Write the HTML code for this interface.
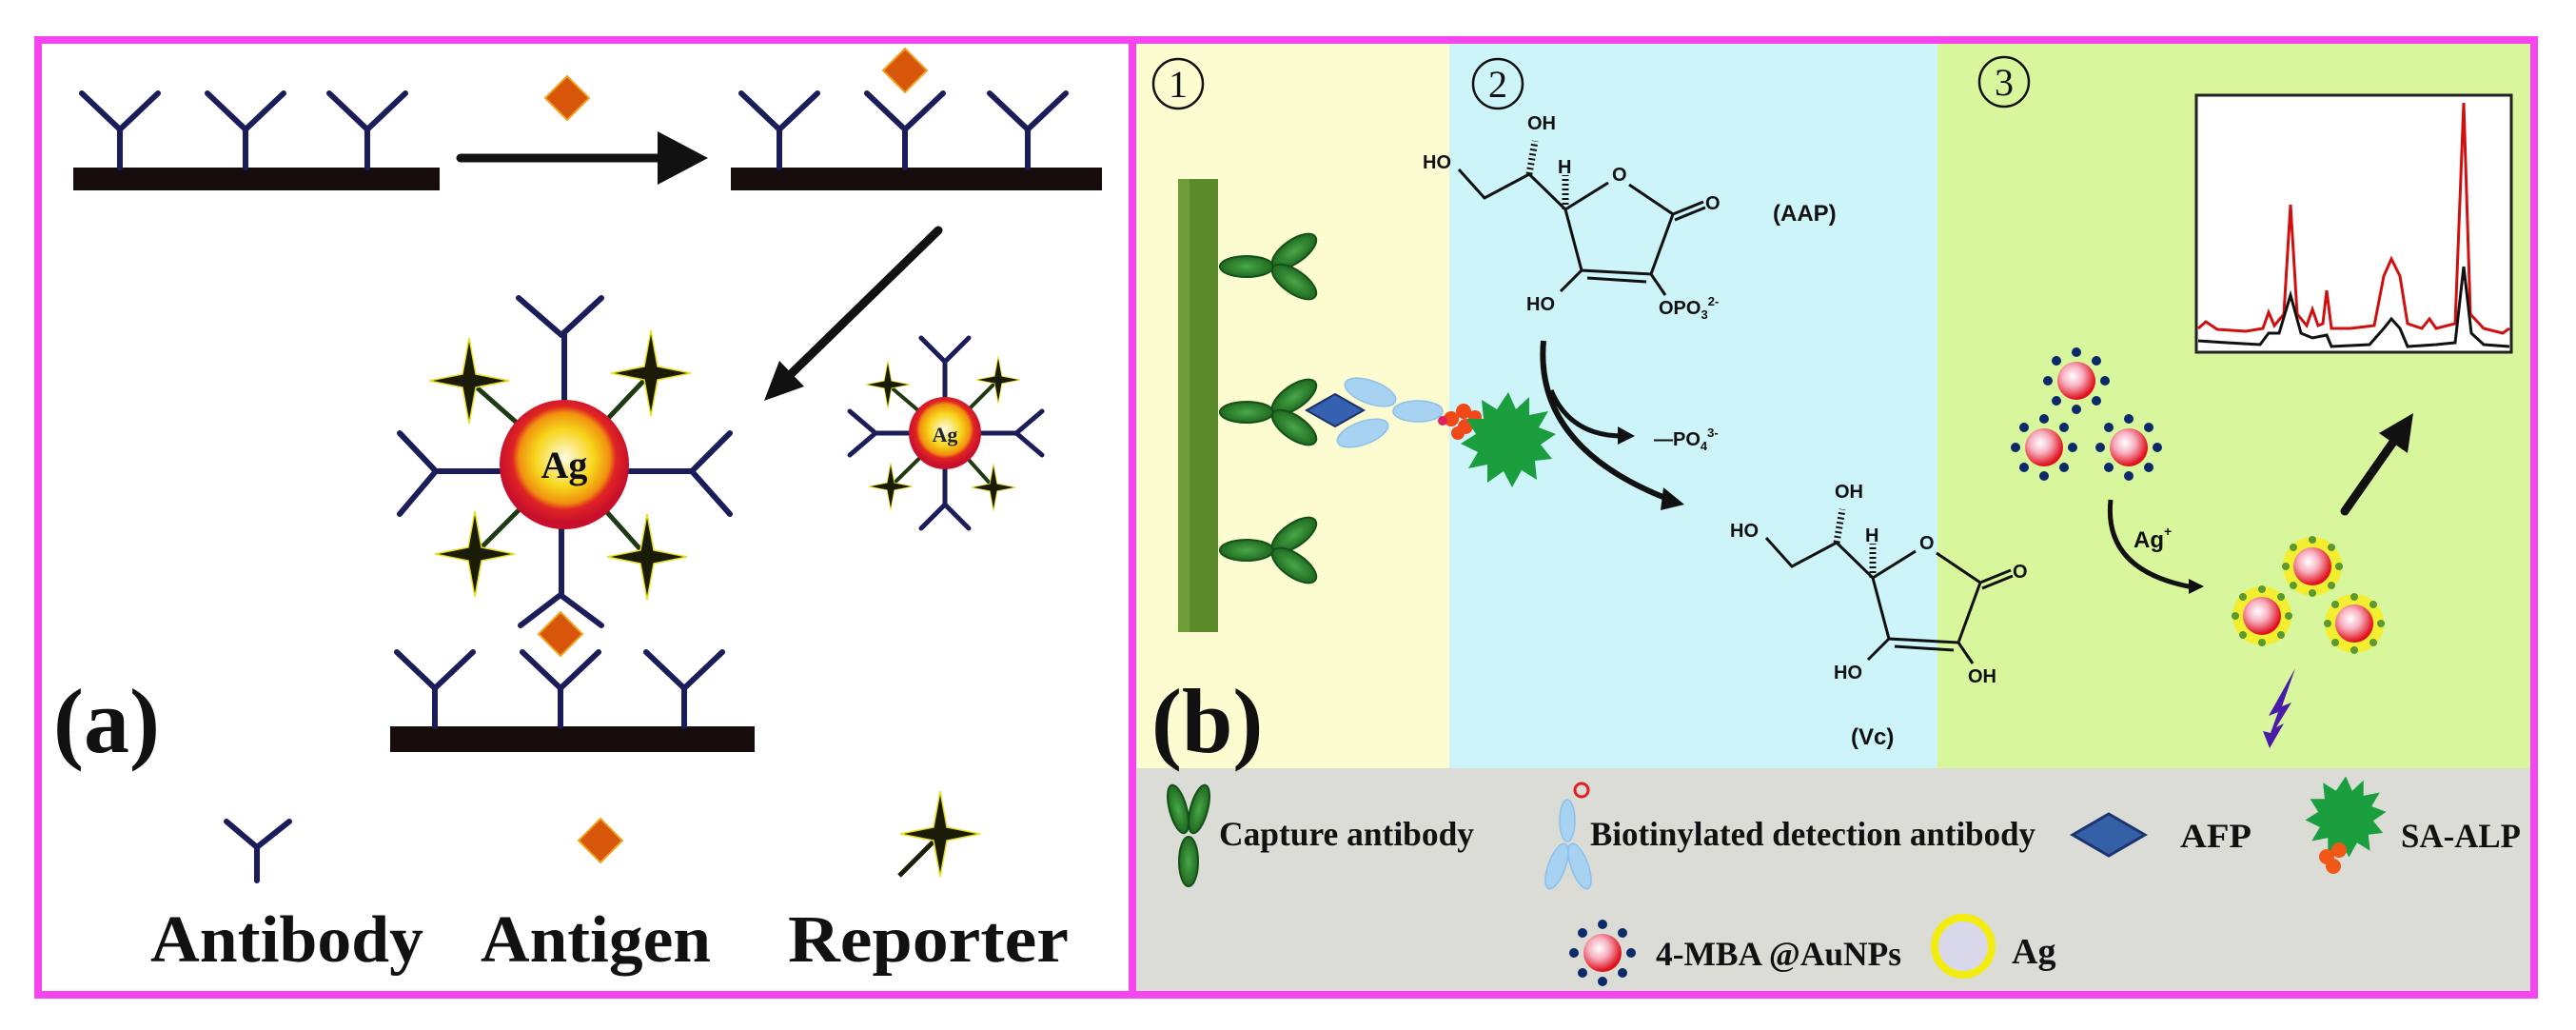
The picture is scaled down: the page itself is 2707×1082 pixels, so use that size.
<!DOCTYPE html>
<html><head><meta charset="utf-8"><style>
html,body{margin:0;padding:0;background:#fff;}
svg{display:block;}
.sf{font-family:"Liberation Serif",serif;font-weight:bold;}
.ss{font-family:"Liberation Sans",sans-serif;font-weight:bold;}
</style></head><body>
<svg width="2707" height="1082" viewBox="0 0 2707 1082" xmlns="http://www.w3.org/2000/svg">
<defs>
<radialGradient id="agg" cx="50%" cy="45%" r="50%">
<stop offset="0" stop-color="#fffbe8"/><stop offset="0.45" stop-color="#f7d61c"/><stop offset="0.7" stop-color="#f0900e"/><stop offset="0.8" stop-color="#e02424"/><stop offset="1" stop-color="#c8102c"/></radialGradient>
<radialGradient id="np" cx="40%" cy="38%" r="60%">
<stop offset="0" stop-color="#ffffff"/><stop offset="0.45" stop-color="#f7b0c0"/><stop offset="1" stop-color="#e0101c"/></radialGradient>
<radialGradient id="gr" cx="50%" cy="50%" r="50%"><stop offset="0" stop-color="#4aa84a"/><stop offset="1" stop-color="#1f6a1f"/></radialGradient>
<path id="Y" d="M0 0 V-40 M0 -40 L-40 -78 M0 -40 L40 -78" stroke="#1b1d5a" stroke-width="6" fill="none" stroke-linecap="round"/>
<path id="st" d="M0 -45 L7 -7 L42 0 L7 7 L0 45 L-7 7 L-42 0 L-7 -7 Z" fill="#1a1c08" stroke="#e8e020" stroke-width="1.5"/>
<path id="dm" d="M0 -23 L23 0 L0 23 L-23 0 Z" fill="#d8560a" stroke="#f0a020" stroke-width="2"/>
<g id="mba"><circle r="20" fill="url(#np)"/>
<g fill="#0a2a6a"><circle cx="0" cy="-30" r="5"/><circle cx="0" cy="30" r="5"/><circle cx="-30" cy="0" r="5"/><circle cx="30" cy="0" r="5"/><circle cx="21" cy="21" r="5"/><circle cx="-21" cy="21" r="5"/><circle cx="21" cy="-21" r="5"/><circle cx="-21" cy="-21" r="5"/></g></g>
<g id="agnp"><circle r="31" fill="#f4ee30"/><circle r="20" fill="url(#np)"/>
<g fill="#5a9a30"><circle cx="0" cy="-28" r="4"/><circle cx="0" cy="28" r="4"/><circle cx="-28" cy="0" r="4"/><circle cx="28" cy="0" r="4"/><circle cx="20" cy="20" r="4"/><circle cx="-20" cy="20" r="4"/><circle cx="20" cy="-20" r="4"/><circle cx="-20" cy="-20" r="4"/></g></g>
<g id="cap"><ellipse cx="0" cy="0" rx="28" ry="11" fill="url(#gr)" stroke="#14501a" stroke-width="2"/>
<ellipse cx="50" cy="-16" rx="27" ry="12" transform="rotate(-35 50 -16)" fill="url(#gr)" stroke="#14501a" stroke-width="2"/>
<ellipse cx="50" cy="16" rx="27" ry="12" transform="rotate(35 50 16)" fill="url(#gr)" stroke="#14501a" stroke-width="2"/></g>
<path id="spk" d="M0 -50 L8 -32 L22 -45 L22 -26 L42 -30 L32 -13 L50 -6 L34 5 L46 20 L28 22 L30 42 L14 32 L4 50 L-5 33 L-22 45 L-22 26 L-42 30 L-32 13 L-50 4 L-34 -6 L-44 -22 L-26 -22 L-28 -42 L-12 -32 Z" fill="#1a9e3e"/>
<g id="struct" stroke="#111" stroke-width="3" fill="none">
<path d="M1533 178 L1560 208 L1607 183 L1645 220 L1690 192 M1712 194 L1758 225 L1735 288 L1662 284 L1645 220 M1758 225 L1790 212 M1760 231 L1792 218 M1668 292 L1730 296 M1662 284 L1640 306"/>
<path d="M1607 183 L1613 148 M1645 220 L1645 184" stroke-dasharray="2 3" stroke-width="7"/>
</g>
</defs>

<rect x="1194" y="46" width="329" height="762" fill="#fdfbd0"/>
<rect x="1523" y="46" width="513" height="762" fill="#cdf4f8"/>
<rect x="2036" y="46" width="623" height="762" fill="#d8f79c"/>
<rect x="1194" y="807" width="1465" height="234" fill="#dcdcd7"/>
<rect x="40" y="42" width="1150" height="1003" fill="none" stroke="#f545ef" stroke-width="8"/>
<rect x="1190" y="42" width="1473" height="1003" fill="none" stroke="#f545ef" stroke-width="8"/>

<rect x="77" y="176" width="385" height="24" fill="#160c0c"/>
<use href="#Y" x="126" y="176"/><use href="#Y" x="258" y="176"/><use href="#Y" x="386" y="176"/>
<use href="#dm" x="596" y="103"/>
<line x1="484" y1="166" x2="700" y2="166" stroke="#111" stroke-width="9" stroke-linecap="round"/>
<polygon points="691,138 744,166 691,194" fill="#111"/>
<rect x="768" y="176" width="390" height="24" fill="#160c0c"/>
<use href="#Y" x="819" y="176"/><use href="#Y" x="951" y="176"/><use href="#Y" x="1080" y="176"/>
<use href="#dm" x="951" y="74"/>
<line x1="986" y1="242" x2="830" y2="394" stroke="#111" stroke-width="9" stroke-linecap="round"/>
<polygon points="803,421 845,406 819,379" fill="#111"/>

<g stroke="#1b1d5a" stroke-width="6" fill="none" stroke-linecap="round">
<path d="M593 420 V352 M590 352 L545 313 M590 352 L632 313"/>
<path d="M525 495 H458 M458 495 L420 455 M458 495 L420 540"/>
<path d="M660 495 H727 M727 495 L767 455 M727 495 L767 540"/>
<path d="M590 556 V625 M589 625 L547 657 M589 625 L632 657"/>
</g>
<g stroke="#1e3a12" stroke-width="5"><line x1="593" y1="488" x2="493" y2="400"/><line x1="593" y1="488" x2="684" y2="392"/><line x1="593" y1="488" x2="499" y2="582"/><line x1="593" y1="488" x2="680" y2="585"/></g>
<use href="#st" x="493" y="400"/><use href="#st" x="684" y="392"/><use href="#st" x="499" y="582"/><use href="#st" x="680" y="585"/>
<circle cx="593" cy="488" r="68" fill="url(#agg)"/>
<text x="593" y="502" class="sf" font-size="40" fill="#111" text-anchor="middle">Ag</text>
<use href="#dm" x="589" y="666"/>
<rect x="410" y="763" width="383" height="27" fill="#160c0c"/>
<use href="#Y" x="457" y="763"/><use href="#Y" x="589" y="763"/><use href="#Y" x="719" y="763"/>

<g stroke="#1b1d5a" stroke-width="5" fill="none" stroke-linecap="round">
<path d="M993 417 V380 M993 380 L968 355 M993 380 L1018 355"/>
<path d="M955 455 H920 M920 455 L893 432 M920 455 L893 478"/>
<path d="M1031 455 H1068 M1068 455 L1095 432 M1068 455 L1095 478"/>
<path d="M993 493 V530 M993 530 L968 555 M993 530 L1018 555"/>
</g>
<g stroke="#1e3a12" stroke-width="4"><line x1="993" y1="455" x2="933" y2="404"/><line x1="993" y1="455" x2="1049" y2="399"/><line x1="993" y1="455" x2="936" y2="511"/><line x1="993" y1="455" x2="1044" y2="512"/></g>
<use href="#st" transform="translate(933 404) scale(0.55)"/><use href="#st" transform="translate(1049 399) scale(0.55)"/><use href="#st" transform="translate(936 511) scale(0.55)"/><use href="#st" transform="translate(1044 512) scale(0.55)"/>
<circle cx="993" cy="455" r="38" fill="url(#agg)"/>
<text x="993" y="464" class="sf" font-size="22" fill="#223" text-anchor="middle">Ag</text>

<text x="56" y="790" class="sf" font-size="96" fill="#111">(a)</text>
<path d="M270 925 V890 M270 890 L238 863 M270 890 L304 863" stroke="#1b1d5a" stroke-width="6" fill="none" stroke-linecap="round"/>
<use href="#dm" x="631" y="883"/>
<line x1="945" y1="920" x2="985" y2="880" stroke="#1a1c08" stroke-width="5"/>
<use href="#st" x="988" y="876"/>
<text x="158" y="1010" class="sf" font-size="70" fill="#111" textLength="287" lengthAdjust="spacingAndGlyphs">Antibody</text>
<text x="505" y="1010" class="sf" font-size="70" fill="#111" textLength="242" lengthAdjust="spacingAndGlyphs">Antigen</text>
<text x="828" y="1010" class="sf" font-size="70" fill="#111" textLength="295" lengthAdjust="spacingAndGlyphs">Reporter</text>

<g stroke="#111" stroke-width="2.5" fill="none"><circle cx="1238" cy="88" r="26"/><circle cx="1574" cy="88" r="26"/><circle cx="2106" cy="86" r="26"/></g>
<g font-family="Liberation Serif, serif" font-size="40" fill="#111" text-anchor="middle"><text x="1238" y="102">1</text><text x="1574" y="102">2</text><text x="2106" y="100">3</text></g>

<rect x="1238" y="188" width="42" height="476" fill="#5a8a2a"/>
<rect x="1238" y="188" width="12" height="476" fill="#6e9c38"/>
<use href="#cap" x="1310" y="280"/>
<use href="#cap" x="1310" y="578"/>
<use href="#cap" x="1310" y="433"/>
<g fill="#a8d2f2" stroke="#8cc0ea" stroke-width="1.5">
<ellipse cx="1440" cy="412" rx="28" ry="12" transform="rotate(20 1440 412)"/>
<ellipse cx="1432" cy="455" rx="28" ry="12" transform="rotate(-20 1432 455)"/>
<ellipse cx="1490" cy="432" rx="26" ry="11"/></g>
<path d="M1403 414 L1433 431 L1403 448 L1373 431 Z" fill="#3660b0" stroke="#1a3068" stroke-width="2"/>
<g fill="#f04818"><circle cx="1525" cy="440" r="8"/><circle cx="1538" cy="432" r="8"/><circle cx="1540" cy="448" r="8"/><circle cx="1550" cy="438" r="7"/><circle cx="1532" cy="455" r="7"/></g>
<circle cx="1516" cy="442" r="5" fill="#e02060"/>
<use href="#spk" x="1585" y="462"/>

<use href="#struct"/>
<line x1="1735" y1="288" x2="1750" y2="310" stroke="#111" stroke-width="3"/>
<g class="ss" font-size="20" fill="#111">
<text x="1495" y="177">HO</text><text x="1605" y="136">OH</text><text x="1637" y="182">H</text><text x="1694" y="190">O</text><text x="1792" y="220">O</text><text x="1604" y="326">HO</text><text x="1743" y="330">OPO<tspan font-size="13" dy="5">3</tspan><tspan font-size="13" dy="-14">2-</tspan></text>
<text x="1863" y="232" font-size="24">(AAP)</text>
<text x="1738" y="468">—PO<tspan font-size="13" dy="5">4</tspan><tspan font-size="13" dy="-14">3-</tspan></text>
</g>
<path d="M1622 358 Q1612 470 1755 525" stroke="#111" stroke-width="6" fill="none"/>
<polygon points="1748,512 1770,530 1745,536" fill="#111"/>
<path d="M1630 410 Q1650 458 1705 458" stroke="#111" stroke-width="5" fill="none"/>
<polygon points="1700,448 1718,458 1700,467" fill="#111"/>
<g transform="translate(323 387)"><use href="#struct"/>
<line x1="1735" y1="288" x2="1750" y2="310" stroke="#111" stroke-width="3"/>
<g class="ss" font-size="20" fill="#111">
<text x="1495" y="177">HO</text><text x="1605" y="136">OH</text><text x="1637" y="182">H</text><text x="1694" y="190">O</text><text x="1792" y="220">O</text><text x="1604" y="326">HO</text><text x="1745" y="330">OH</text></g></g>
<text x="1945" y="782" class="ss" font-size="24" fill="#111">(Vc)</text>

<text x="1210" y="790" class="sf" font-size="96" fill="#111">(b)</text>

<rect x="2308" y="100" width="331" height="270" fill="#fff" stroke="#222" stroke-width="3"/>
<polyline fill="none" stroke="#d01010" stroke-width="3" points="2310,345 2318,338 2330,346 2360,348 2378,345 2384,328 2390,342 2400,330 2407,215 2414,330 2424,342 2430,325 2436,342 2441,340 2445,305 2450,345 2470,345 2495,342 2505,290 2513,272 2522,290 2530,340 2545,345 2553,335 2560,345 2580,340 2589,108 2596,330 2610,345 2630,350 2637,345"/>
<polyline fill="none" stroke="#111" stroke-width="3" points="2310,358 2340,360 2375,362 2384,350 2395,350 2407,310 2418,350 2430,355 2445,352 2450,364 2490,362 2505,345 2513,335 2522,345 2530,364 2560,362 2580,360 2589,280 2597,350 2610,362 2637,364"/>

<use href="#mba" x="2182" y="400"/><use href="#mba" x="2148" y="470"/><use href="#mba" x="2237" y="470"/>
<path d="M2218 525 Q2210 600 2305 617" stroke="#111" stroke-width="5" fill="none"/>
<polygon points="2300,608 2316,616 2300,624" fill="#111"/>
<text x="2242" y="575" class="ss" font-size="24" fill="#111">Ag<tspan font-size="14" dy="-12">+</tspan></text>
<use href="#agnp" x="2430" y="595"/><use href="#agnp" x="2377" y="647"/><use href="#agnp" x="2474" y="655"/>
<polygon points="2412,702 2398,742 2408,738 2392,764 2400,760 2385,786 2378,768 2386,770 2394,748 2384,752" fill="#4a1aa8"/>
<line x1="2464" y1="537" x2="2520" y2="457" stroke="#111" stroke-width="9" stroke-linecap="round"/>
<polygon points="2536,434 2530,476 2500,455" fill="#111"/>

<g>
<ellipse cx="1238" cy="850" rx="9" ry="26" transform="rotate(-15 1238 850)" fill="url(#gr)" stroke="#14501a" stroke-width="2"/>
<ellipse cx="1260" cy="850" rx="9" ry="26" transform="rotate(15 1260 850)" fill="url(#gr)" stroke="#14501a" stroke-width="2"/>
<ellipse cx="1249" cy="905" rx="10" ry="26" fill="url(#gr)" stroke="#14501a" stroke-width="2"/>
</g>
<text x="1281" y="888" class="sf" font-size="36" fill="#111" textLength="268" lengthAdjust="spacingAndGlyphs">Capture antibody</text>
<g fill="#a8d2f2" stroke="#8cc0ea" stroke-width="1.5">
<ellipse cx="1647" cy="862" rx="8" ry="22"/>
<ellipse cx="1636" cy="910" rx="9" ry="25" transform="rotate(20 1636 910)"/>
<ellipse cx="1660" cy="910" rx="9" ry="25" transform="rotate(-20 1660 910)"/></g>
<circle cx="1662" cy="830" r="7" fill="none" stroke="#e02020" stroke-width="3"/>
<text x="1671" y="888" class="sf" font-size="36" fill="#111" textLength="468" lengthAdjust="spacingAndGlyphs">Biotinylated detection antibody</text>
<path d="M2216 855 L2254 877 L2216 899 L2178 877 Z" fill="#3560a8" stroke="#1c3570" stroke-width="3"/>
<text x="2291" y="890" class="sf" font-size="36" fill="#111" textLength="75" lengthAdjust="spacingAndGlyphs">AFP</text>
<use href="#spk" transform="translate(2465 858) scale(0.85)"/>
<g fill="#f05818"><circle cx="2445" cy="900" r="8"/><circle cx="2458" cy="893" r="8"/><circle cx="2452" cy="910" r="8"/></g>
<text x="2523" y="890" class="sf" font-size="36" fill="#111" textLength="126" lengthAdjust="spacingAndGlyphs">SA-ALP</text>
<use href="#mba" x="1684" y="1001"/>
<text x="1740" y="1014" class="sf" font-size="36" fill="#111" textLength="258" lengthAdjust="spacingAndGlyphs">4-MBA @AuNPs</text>
<circle cx="2063" cy="994" r="30" fill="#d8d8ea" stroke="#f2ec10" stroke-width="8"/>
<text x="2114" y="1012" class="sf" font-size="38" fill="#111">Ag</text>
</svg>
</body></html>
